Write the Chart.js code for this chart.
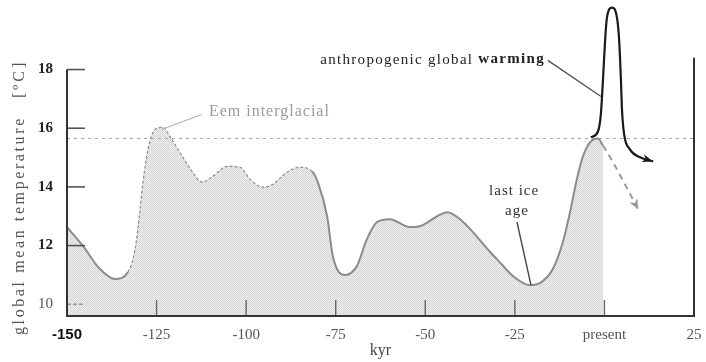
<!DOCTYPE html>
<html>
<head>
<meta charset="utf-8">
<script src="https://cdn.jsdelivr.net/npm/chart.js@4.4.1/dist/chart.umd.min.js"></script>
<style>
  html, body { margin: 0; padding: 0; background: #fff; }
</style>
</head>
<body>
<canvas id="myChart" width="706" height="362"></canvas>
<script>
// reconstructed temperature, kyr before present vs. global mean temperature (C)
var kyr = [-150, -145.5, -140.8, -136.6, -133.0, -131.0, -129.6, -128.8, -127.4, -125.4,
  -123.2, -121.3, -118.5, -115.1, -112.3, -109.3, -105.3, -101.7, -98.9, -95.3,
  -92.5, -88.6, -85.0, -81.6, -80.0, -77.4, -75.8, -72.4, -69.1, -66.3,
  -63.5, -59.9, -54.3, -51.5, -46.7, -43.9, -40.3, -36.7, -31.9, -30.0,
  -25.5, -20.8, -17.2, -14.4, -11.6, -9.6, -7.7, -6.0, -3.8, -1.8, -0.4];
var temp = [12.63, 11.98, 11.20, 10.86, 11.10, 11.88, 13.24, 14.16, 15.28, 15.96,
  16.03, 15.72, 15.18, 14.53, 14.16, 14.36, 14.70, 14.67, 14.26, 13.99,
  14.09, 14.50, 14.67, 14.53, 14.16, 13.00, 11.64, 11.00, 11.30, 12.22,
  12.80, 12.90, 12.63, 12.66, 13.00, 13.14, 12.90, 12.46, 11.78, 11.54,
  10.96, 10.65, 10.79, 11.20, 12.12, 13.14, 14.26, 15.04, 15.55, 15.65, 15.41];

// natural cooling that would follow the present interglacial
var naturalKyr = [-0.4, 2.4, 5.7, 9.4];
var naturalTemp = [15.41, 14.84, 14.09, 13.24];

// anthropogenic spike
var warmKyr = [-3.8, -1.8, -1.0, -0.4, 0.2, 0.7, 2.1, 3.5, 4.1, 4.6, 4.9, 5.5, 7.1, 9.9, 13.6];
var warmTemp = [15.69, 15.89, 16.47, 17.66, 19.02, 19.77, 20.11, 19.77, 19.02, 17.66, 16.64, 15.79, 15.28, 15.01, 14.87];

// Eem level reference line
var eemKyr = [-150, 25];
var eemTemp = [15.65, 15.65];

var xTicks = [-150, -125, -100, -75, -50, -25, 0, 25];
var xTickLabels = ["-150", "-125", "-100", "-75", "-50", "-25", "present", "25"];
var yTicks = [10, 12, 14, 16, 18];

function pts(xs, ys) {
  return xs.map(function (x, i) { return { x: x, y: ys[i] }; });
}

// light checkered fill under the curve
function makePattern() {
  var c = document.createElement("canvas");
  c.width = 2; c.height = 2;
  var g = c.getContext("2d");
  g.fillStyle = "#ededed"; g.fillRect(0, 0, 2, 2);
  g.fillStyle = "#d6d6d6"; g.fillRect(0, 0, 1, 1); g.fillRect(1, 1, 1, 1);
  return g.createPattern(c, "repeat");
}

var serif = "'Liberation Serif', 'DejaVu Serif', serif";

// annotation anchors in data units
var notes = {
  eem: { text: "Eem interglacial", x: -110.4, y: 16.57, from: [-112.3, 16.47], to: [-123.5, 15.96] },
  warm: { x: -16.6, y: 18.34, from: [-15.8, 18.31], to: [-0.96, 17.08] },
  ice: { x: -25.2, y1: 13.85, y2: 13.17, from: [-24.4, 12.80], to: [-20.5, 10.65] }
};

function inDashedStretch(c) {
  var x0 = c.p0.parsed.x;
  return x0 >= -133 && x0 < -84;
}

function arrowHead(ctx, a, b, len, wid, color) {
  var ang = Math.atan2(b.y - a.y, b.x - a.x);
  ctx.save();
  ctx.translate(b.x, b.y);
  ctx.rotate(ang);
  ctx.fillStyle = color;
  ctx.beginPath();
  ctx.moveTo(0, 0);
  ctx.lineTo(-len, -wid);
  ctx.lineTo(-len * 0.7, 0);
  ctx.lineTo(-len, wid);
  ctx.closePath();
  ctx.fill();
  ctx.restore();
}

var decor = {
  id: "decor",
  afterDatasetsDraw: function (chart) {
    var ctx = chart.ctx;
    var xs = chart.scales.x, ys = chart.scales.y;
    var X = function (v) { return xs.getPixelForValue(v); };
    var Y = function (v) { return ys.getPixelForValue(v); };
    var bottom = chart.chartArea.bottom;

    ctx.save();
    ctx.lineCap = "butt";

    // tick marks pointing into the plot
    ctx.lineWidth = 1.6;
    yTicks.forEach(function (v) {
      ctx.setLineDash(v === 10 ? [4, 2] : []);
      ctx.strokeStyle = v === 10 ? "#999" : "#555";
      ctx.beginPath();
      ctx.moveTo(X(-150), Y(v));
      ctx.lineTo(X(-150) + 18, Y(v));
      ctx.stroke();
    });
    ctx.setLineDash([]);
    ctx.strokeStyle = "#666";
    ctx.lineWidth = 1.4;
    xTicks.slice(1, -1).forEach(function (v) {
      ctx.beginPath();
      ctx.moveTo(X(v), bottom);
      ctx.lineTo(X(v), bottom - 16);
      ctx.stroke();
    });

    // axis frame: left, bottom, right
    ctx.strokeStyle = "#333";
    ctx.lineWidth = 2;
    ctx.beginPath();
    ctx.moveTo(X(-150), Y(18));
    ctx.lineTo(X(-150), bottom);
    ctx.lineTo(X(25), bottom);
    ctx.lineTo(X(25), Y(18.4));
    ctx.stroke();

    // arrow heads
    var wm = chart.getDatasetMeta(0).data;
    var n = wm.length;
    arrowHead(ctx, wm[n - 2], wm[n - 1], 11, 4, "#1a1a1a");
    var nm = chart.getDatasetMeta(1).data;
    var k = nm.length;
    arrowHead(ctx, nm[k - 2], nm[k - 1], 10, 4.5, "#999");

    // leader lines
    ctx.lineWidth = 1;
    ctx.strokeStyle = "#aaa";
    ctx.beginPath();
    ctx.moveTo(X(notes.eem.from[0]), Y(notes.eem.from[1]));
    ctx.lineTo(X(notes.eem.to[0]), Y(notes.eem.to[1]));
    ctx.stroke();
    ctx.lineWidth = 1.4;
    ctx.strokeStyle = "#555";
    ctx.beginPath();
    ctx.moveTo(X(notes.warm.from[0]), Y(notes.warm.from[1]));
    ctx.lineTo(X(notes.warm.to[0]), Y(notes.warm.to[1]));
    ctx.stroke();
    ctx.strokeStyle = "#444";
    ctx.beginPath();
    ctx.moveTo(X(notes.ice.from[0]), Y(notes.ice.from[1]));
    ctx.lineTo(X(notes.ice.to[0]), Y(notes.ice.to[1]));
    ctx.stroke();

    // annotation text
    ctx.textBaseline = "middle";
    ctx.letterSpacing = "1px";
    ctx.font = "16px " + serif;
    ctx.fillStyle = "#9a9a9a";
    ctx.textAlign = "left";
    ctx.fillText(notes.eem.text, X(notes.eem.x), Y(notes.eem.y));

    ctx.letterSpacing = "1.3px";
    ctx.textAlign = "right";
    ctx.font = "bold 15px " + serif;
    ctx.fillStyle = "#222";
    var wx = X(notes.warm.x), wy = Y(notes.warm.y);
    ctx.fillText("warming", wx, wy);
    var bw = ctx.measureText("warming").width;
    ctx.font = "15px " + serif;
    ctx.fillText("anthropogenic global ", wx - bw, wy);

    ctx.letterSpacing = "1px";
    ctx.textAlign = "center";
    ctx.fillStyle = "#333";
    ctx.fillText("last ice", X(notes.ice.x), Y(notes.ice.y1));
    ctx.fillText("age", X(notes.ice.x + 0.8), Y(notes.ice.y2));

    // rotated y axis title
    ctx.fillStyle = "#555";
    ctx.font = "16px " + serif;
    ctx.textAlign = "left";
    ctx.save();
    ctx.letterSpacing = "2.6px";
    ctx.translate(20, 335);
    ctx.rotate(-Math.PI / 2);
    ctx.fillText("global mean temperature", 0, 0);
    ctx.restore();
    ctx.save();
    ctx.letterSpacing = "3px";
    ctx.translate(20, 98);
    ctx.rotate(-Math.PI / 2);
    ctx.fillText("[ºC]", 0, 0);
    ctx.restore();

    ctx.restore();
  }
};

var ctx = document.getElementById("myChart").getContext("2d");
var chart = new Chart(ctx, {
  type: "line",
  data: {
    datasets: [
      {
        data: pts(warmKyr, warmTemp),
        borderColor: "#1a1a1a",
        borderWidth: 2.2,
        fill: false,
        pointRadius: 0,
        cubicInterpolationMode: "monotone"
      },
      {
        data: pts(naturalKyr, naturalTemp),
        borderColor: "#9a9a9a",
        borderWidth: 2,
        borderDash: [6, 5],
        fill: false,
        pointRadius: 0,
        cubicInterpolationMode: "monotone"
      },
      {
        data: pts(eemKyr, eemTemp),
        borderColor: "#a8a8a8",
        borderWidth: 1.2,
        borderDash: [3, 4],
        fill: false,
        pointRadius: 0
      },
      {
        // outline of the record, dashed across the Eem stretch
        data: pts(kyr, temp),
        borderColor: "#8c8c8c",
        borderWidth: 2,
        fill: false,
        pointRadius: 0,
        cubicInterpolationMode: "monotone",
        segment: {
          borderDash: function (c) { return inDashedStretch(c) ? [3, 2] : undefined; },
          borderWidth: function (c) { return inDashedStretch(c) ? 1.2 : undefined; }
        }
      },
      {
        // shaded area under the record
        data: pts(kyr, temp),
        borderWidth: 0,
        borderColor: "rgba(0,0,0,0)",
        backgroundColor: makePattern(),
        fill: "start",
        pointRadius: 0,
        cubicInterpolationMode: "monotone"
      }
    ]
  },
  options: {
    responsive: false,
    animation: false,
    layout: { padding: { top: 5, right: 12, left: 0, bottom: 0 } },
    plugins: {
      legend: { display: false },
      tooltip: { enabled: false }
    },
    scales: {
      x: {
        type: "linear",
        min: -150,
        max: 25,
        afterBuildTicks: function (s) {
          s.ticks = xTicks.map(function (v) { return { value: v }; });
        },
        afterFit: function (s) {
          s.height = 46;
          s.paddingLeft = 0; s.paddingRight = 0;
        },
        grid: { display: false, drawTicks: false },
        border: { display: false },
        ticks: {
          padding: 10,
          maxRotation: 0,
          autoSkip: false,
          color: function (c) { return c.tick && c.tick.value === -150 ? "#111" : "#555"; },
          font: function (c) {
            if (c.tick && c.tick.value === -150) {
              return { family: "'Liberation Sans', Arial, sans-serif", size: 15, weight: "bold" };
            }
            return { family: serif, size: 15 };
          },
          callback: function (v) { return xTickLabels[xTicks.indexOf(v)]; }
        },
        title: {
          display: true,
          text: "kyr",
          color: "#444",
          font: { family: serif, size: 16 },
          padding: { top: 0, bottom: 2 }
        }
      },
      y: {
        min: 9.6,
        max: 20.2,
        afterBuildTicks: function (s) {
          s.ticks = yTicks.map(function (v) { return { value: v }; });
        },
        afterFit: function (s) {
          s.width = 67;
          s.paddingTop = 0; s.paddingBottom = 0;
        },
        grid: { display: false, drawTicks: false },
        border: { display: false },
        ticks: {
          padding: 14,
          color: function (c) { return c.tick && c.tick.value === 10 ? "#555" : "#222"; },
          font: function (c) {
            return { family: serif, size: 15, weight: c.tick && c.tick.value === 10 ? "normal" : "bold" };
          }
        }
      }
    }
  },
  plugins: [decor]
});
</script>
</body>
</html>
